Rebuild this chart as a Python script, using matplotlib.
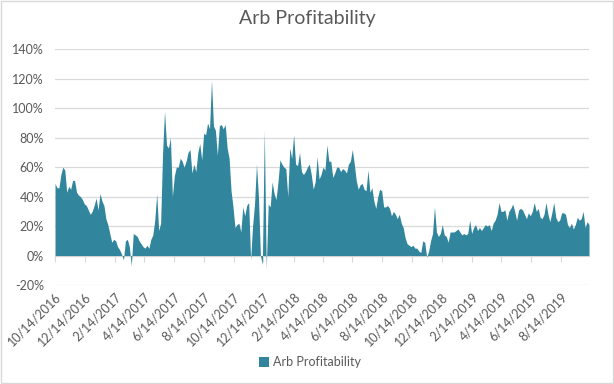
import pandas as pd
import matplotlib
matplotlib.use("Agg")
import matplotlib.pyplot as plt
import matplotlib.dates as mdates
from matplotlib.patches import Rectangle
from matplotlib.ticker import FuncFormatter, MultipleLocator

# arb profitability in %, one reading every 4 days from 10/14/2016
start_date = "2016-10-14"
step = "4D"

profit_late2016 = [49, 46, 46, 55, 60, 58, 43, 47, 45, 51,
                   51, 43, 41, 40, 38, 35, 34, 31, 28, 30,
                   34, 39, 31, 42, 37, 34, 25, 21, 15, 9,
                   11, 10, 6, 4, 1, -3, 10, 11, 6, -7,
                   15, 14, 13, 10, 8, 6, 5]
profit_2017 = [7, 5, 11, 14, 24, 42, 17, 22, 70, 98,
               75, 73, 80, 40, 54, 60, 60, 66, 64, 60,
               64, 70, 72, 56, 62, 57, 70, 76, 65, 83,
               82, 90, 86, 119, 88, 85, 68, 88, 89, 86,
               89, 73, 66, 44, 33, 19]
profit_turn = [21, 22, 16, 33, 27, 34, 36, -3, 20, 35,
               62, 40, 0, -6, 85, -9, 35, 33, 50, 42,
               38, 50, 65, 62, 60, 59, 40, 73, 66, 82,
               62, 61, 70, 57, 55, 57, 60, 62, 55, 45,
               50, 67, 52, 55, 60, 58]
profit_2018 = [75, 64, 64, 53, 56, 60, 60, 57, 59, 58,
               56, 62, 64, 72, 62, 51, 45, 48, 49, 45,
               44, 58, 43, 46, 37, 32, 40, 45, 44, 33,
               33, 34, 32, 27, 30, 28, 25, 28, 22, 19,
               12, 8, 7, 6, 7, 5]
profit_low = [5, 3, 2, 10, 9, -1, 3, 10, 15, 33,
              16, 13, 15, 21, 14, 13, 9, 16, 16, 16,
              17, 18, 16, 14, 15, 14, 15, 24, 15, 19,
              21, 17, 19, 17, 19, 21, 20, 21, 17, 22,
              24, 28, 36, 30, 30, 31]
profit_2019 = [24, 30, 32, 35, 30, 24, 31, 32, 31, 28,
               25, 29, 27, 30, 36, 30, 32, 26, 25, 28,
               36, 28, 23, 29, 36, 26, 23, 24, 29, 29,
               28, 21, 19, 22, 18, 21, 26, 24, 25, 30,
               19, 23, 21]

profit = profit_late2016 + profit_2017 + profit_turn + profit_2018 + profit_low + profit_2019
dates = pd.date_range(start_date, periods=len(profit), freq=step)

series_name = "Arb Profitability"
fill_color = "#31859C"
text_gray = "#595959"
grid_gray = "#D9D9D9"

plt.rcParams['font.family'] = ['Lato', 'DejaVu Sans']

fig = plt.figure(figsize=(6.14, 3.84), dpi=100)
ax = fig.add_axes([0.0896, 0.2578, 0.8697, 0.6138])

ax.fill_between(dates, profit, 0, color=fill_color, linewidth=0, zorder=3)

ax.set_xlim(dates[0], dates[-1])
ax.set_ylim(-20, 140)
ax.yaxis.set_major_locator(MultipleLocator(20))
ax.yaxis.set_major_formatter(FuncFormatter(lambda v, p: f"{v:.0f}%"))
ax.grid(axis='y', color=grid_gray, linewidth=0.9, zorder=0)
ax.set_axisbelow(True)
ax.tick_params(axis='y', length=0, labelsize=9, labelcolor=text_gray, pad=8)

for s in ['top', 'right', 'left']:
    ax.spines[s].set_visible(False)
ax.spines['bottom'].set_position(('data', 0))
ax.spines['bottom'].set_color(grid_gray)
ax.spines['bottom'].set_zorder(1)

tick_loc = mdates.MonthLocator(bymonth=(2, 4, 6, 8, 10, 12), bymonthday=14)
date_fmt = FuncFormatter(lambda x, p: "{0.month}/{0.day}/{0.year}".format(mdates.num2date(x)))

ax.xaxis.set_major_locator(tick_loc)
ax.tick_params(axis='x', direction='out', length=4, color=grid_gray, labelbottom=False)

# labels sit under the plot area, tick marks stay on the 0% line
ax2 = ax.twiny()
ax2.set_xlim(ax.get_xlim())
ax2.xaxis.set_ticks_position('bottom')
ax2.xaxis.set_major_locator(mdates.MonthLocator(bymonth=(2, 4, 6, 8, 10, 12), bymonthday=14))
ax2.xaxis.set_major_formatter(date_fmt)
ax2.tick_params(axis='x', length=0, labelsize=9, labelcolor=text_gray, pad=4)
for lab in ax2.get_xticklabels():
    lab.set_rotation(45)
    lab.set_ha('right')
    lab.set_rotation_mode('anchor')
for s in ax2.spines.values():
    s.set_visible(False)

fig.text(0.5, 0.953, series_name, ha='center', va='center', fontsize=14, color=text_gray)

handle = Rectangle((0, 0), 1, 1, facecolor=fill_color, edgecolor='none')
fig.legend([handle], [series_name], loc='center', bbox_to_anchor=(0.505, 0.057),
           frameon=False, fontsize=9, labelcolor=text_gray,
           handlelength=0.8, handleheight=0.8, handletextpad=0.3)

fig.patches.append(Rectangle((0.001, 0.002), 0.997, 0.995, transform=fig.transFigure,
                             fill=False, edgecolor=grid_gray, linewidth=1))

fig.savefig("out.png", dpi=100)
